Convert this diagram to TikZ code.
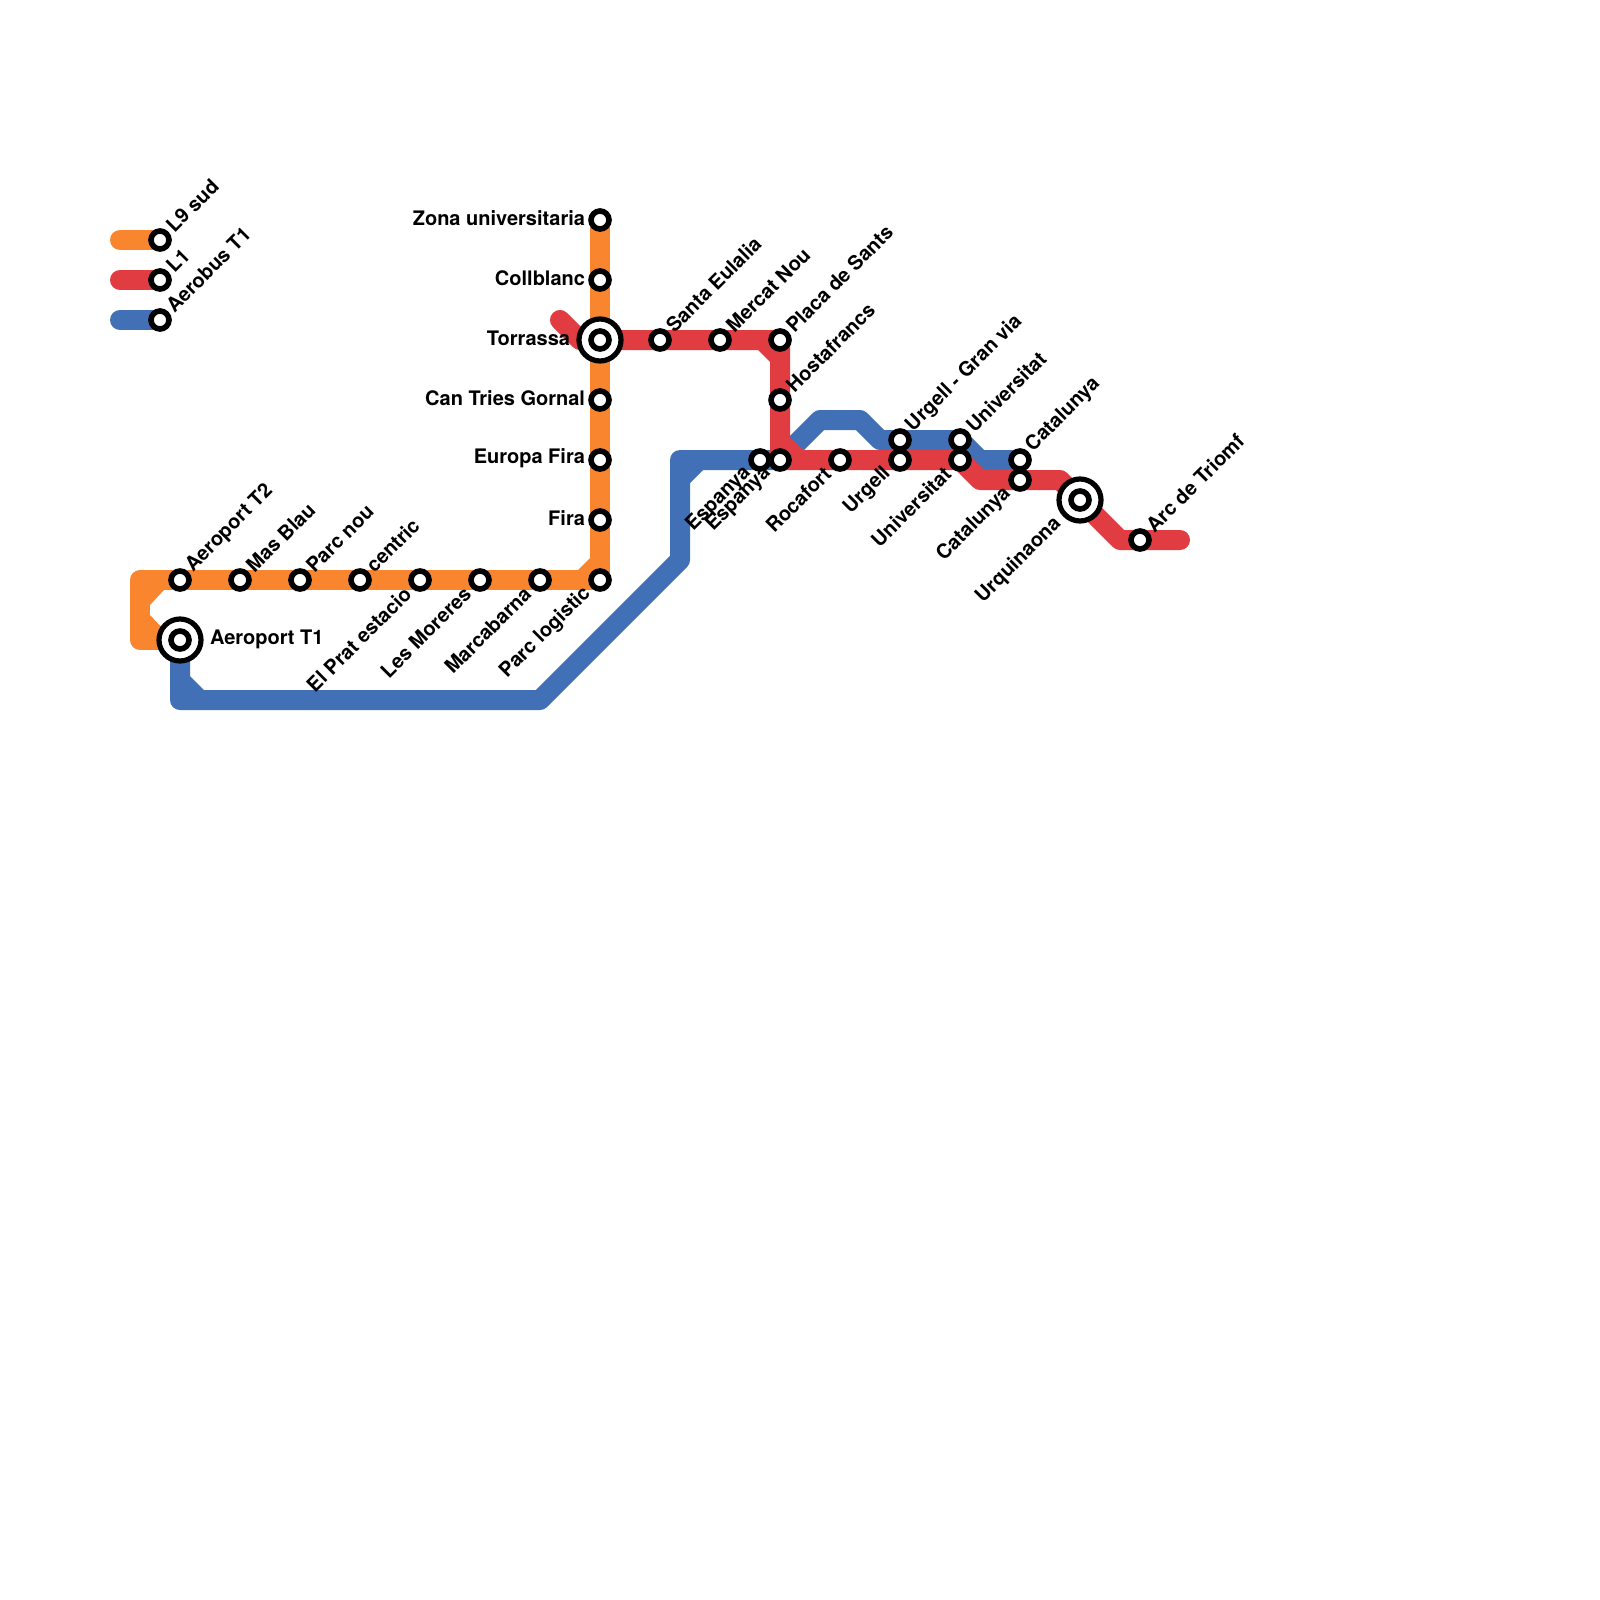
\documentclass[tikz,border=0pt]{standalone}
\usepackage{fontspec}
\setmainfont{TeX Gyre Heros}
\definecolor{lineorange}{HTML}{F9852F}
\definecolor{linered}{HTML}{E03C42}
\definecolor{lineblue}{HTML}{4170B7}
\tikzset{
  metro/.style={line width=20pt,line join=round,line cap=round},
  stn/.style={circle,draw=black,fill=white,line width=5.6pt,minimum size=18pt,inner sep=0pt,outer sep=0pt},
  hub/.style={circle,draw=black,fill=white,line width=5.2pt,minimum size=42pt,inner sep=0pt,outer sep=0pt},
  lbl/.style={font=\bfseries\fontsize{20pt}{22pt}\selectfont,text=black,inner sep=0pt,outer sep=0pt},
  ne/.style={lbl,rotate=45,anchor=west},
  sw/.style={lbl,rotate=45,anchor=east},
  wl/.style={lbl,anchor=east},
}
\newcommand{\stationat}[2]{\node[stn] (#1) at (#2) {};}
\newcommand{\hubat}[2]{\node[hub] (#1h) at (#2) {};\node[stn] (#1) at (#2) {};}
\newcommand{\lne}[2]{\node[ne] (t#1) at ([shift={(9.5,-11.5)}]#1.center) {#2};}
\newcommand{\lsw}[2]{\node[sw] (t#1) at ([shift={(-12.5,10.5)}]#1.center) {#2};}
\newcommand{\lw}[2]{\node[wl] (t#1) at ([shift={(-15,-1.5)}]#1.center) {#2};}
\begin{document}
\begin{tikzpicture}[x=1pt,y=-1pt]
\useasboundingbox (0,0) rectangle (1600,1600);
\fill[white] (0,0) rectangle (1600,1600);
% coordinates
\foreach \n/\x/\y in {
 a/600/220,b/600/280,c/600/340,d/600/400,e/600/460,f/600/520,g/600/580,
 h/540/580,i/480/580,j/420/580,k/360/580,l/300/580,m/240/580,o/180/580,p/180/640,
 q/660/340,r/720/340,s/780/340,t/780/400,u/780/460,v/840/460,w/900/460,x/960/460,
 y/1020/480,z/1080/500,aa/1140/540,
 ba/760/460,bb/900/440,bc/960/440,bd/1020/460,
 la/160/240,lb/160/280,lc/160/320,
 ka/120/240,kb/120/280,kc/120/320,
 c1/140/580,c2/140/640,
 d1/180/700,d2/540/700,d3/680/560,d4/680/460,d5/820/420,d6/860/420,d7/880/440,d8/960/440,d9/980/460,
 r0/560/320,r1/580/340,r2/980/480,r3/1060/480,r4/1120/540,r5/1180/540}
 {\coordinate (\n c) at (\x,\y);}
% lines
\draw[metro,lineorange] (kac) -- (lac);
\draw[metro,linered] (kbc) -- (lbc);
\draw[metro,lineblue] (kcc) -- (lcc);
\draw[metro,lineorange] (ac) -- (gc) -- (c1c) -- (c2c) -- (pc);
\fill[lineorange] (150,589) -- (165,589) -- (150,605) -- cycle;
\fill[lineorange] (150,615) -- (150,631) -- (165,631) -- cycle;
\fill[lineorange] (591,557) -- (591,571) -- (577,571) -- cycle;
\draw[metro,lineblue] (pc) -- (d1c) -- (d2c) -- (d3c) -- (d4c) -- (bac) -- (uc) -- (d5c) -- (d6c) -- (d7c) -- (d8c) -- (d9c) -- (bdc);
\fill[lineblue] (189,675) -- (189,691) -- (205,691) -- cycle;
\fill[lineblue] (689,484) -- (689,469) -- (704,469) -- cycle;
\draw[metro,linered] (r0c) -- (r1c) -- (sc) -- (uc) -- (xc) -- (r2c) -- (r3c) -- (r4c) -- (r5c);
\fill[linered] (757,349) -- (771,349) -- (771,363) -- cycle;
\fill[linered] (789,437) -- (789,451) -- (805,451) -- cycle;
% stations
\foreach \n in {a,b,d,e,f,g,h,i,j,k,l,m,o,q,r,s,t,u,v,w,x,y,aa,ba,bb,bc,bd,la,lb,lc}
  {\stationat{\n}{\n c}}
\hubat{c}{cc}
\hubat{p}{pc}
\hubat{z}{zc}
% labels
\lw{a}{Zona universitaria}
\lw{b}{Collblanc}
\node[wl] (tc) at ([shift={(-30,-1.5)}]c.center) {Torrassa};
\lw{d}{Can Tries Gornal}
\lw{e}{Europa Fira}
\lw{f}{Fira}
\lne{la}{L9 sud}
\lne{lb}{L1}
\lne{lc}{Aerobus T1}
\lne{o}{Aeroport T2}
\lne{m}{Mas Blau}
\lne{l}{Parc nou}
\lne{k}{centric}
\lsw{j}{El Prat estacio}
\lsw{i}{Les Moreres}
\lsw{h}{Marcabarna}
\lsw{g}{Parc logistic}
\node[lbl,anchor=west] (tp) at ([shift={(30,-1)}]p.center) {Aeroport T1};
\lne{q}{Santa Eulalia}
\lne{r}{Mercat Nou}
\lne{s}{Placa de Sants}
\lne{t}{Hostafrancs}
\lsw{ba}{Espanya}
\lsw{u}{Espanya}
\lsw{v}{Rocafort}
\lsw{w}{Urgell}
\lsw{x}{Universitat}
\lsw{y}{Catalunya}
\node[sw] (tz) at ([shift={(-22,21)}]z.center) {Urquinaona};
\lne{bb}{Urgell - Gran via}
\lne{bc}{Universitat}
\lne{bd}{Catalunya}
\lne{aa}{Arc de Triomf}
\end{tikzpicture}
\end{document}
